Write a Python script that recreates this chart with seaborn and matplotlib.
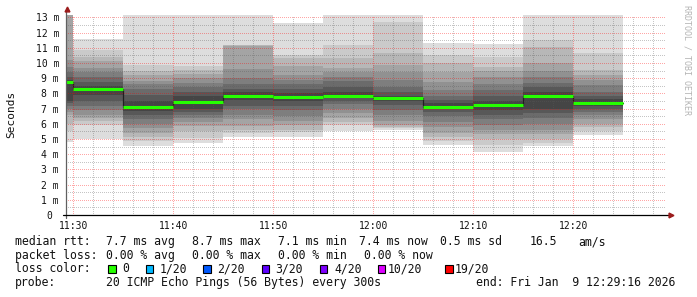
import numpy as np
import pandas as pd
import matplotlib
matplotlib.use("Agg")
import matplotlib.pyplot as plt
import matplotlib.dates as mdates
from matplotlib.ticker import MultipleLocator
from matplotlib.patches import Rectangle
from matplotlib.lines import Line2D
import seaborn as sns

# ---------------- data ----------------
DAY = "2026-01-09 "
graph_start = "11:29:16"
graph_end = "12:29:16"
bin_starts = ["11:29:16", "11:30:00", "11:35:00", "11:40:00", "11:45:00", "11:50:00",
              "11:55:00", "12:00:00", "12:05:00", "12:10:00", "12:15:00", "12:20:00"]
data_end = "12:25:00"

# median rtt per 5-minute step (ms)
median_rtt = [8.77, 8.29, 7.12, 7.45, 7.83, 7.78, 7.83, 7.67, 7.12, 7.26, 7.83, 7.39]

# 20 sorted ping rtts per step (ms)
ping_1129 = [4.82, 5.5, 6.0, 6.6, 6.8, 7.0, 7.2, 7.35, 7.5, 8.72, 8.82, 8.9, 9.1, 9.4, 9.76, 10.2, 13.3, 13.3, 13.3, 13.3]
ping_1130 = [4.98, 5.92, 6.2, 6.35, 6.6, 6.9, 7.2, 7.5, 7.9, 8.22, 8.36, 8.5, 8.77, 9.1, 9.4, 9.65, 10.1, 10.4, 10.86, 11.56]
ping_1135 = [4.56, 4.85, 5.15, 5.4, 5.7, 6.0, 6.3, 6.55, 6.85, 7.05, 7.19, 7.5, 7.9, 8.3, 8.6, 8.8, 9.2, 9.5, 9.85, 13.3]
ping_1140 = [4.76, 5.05, 5.5, 5.85, 6.1, 6.35, 6.6, 6.8, 7.0, 7.38, 7.52, 7.8, 8.1, 8.4, 8.7, 9.0, 9.3, 9.54, 9.8, 13.3]
ping_1145 = [5.15, 5.4, 5.6, 5.85, 6.3, 6.6, 6.95, 7.2, 7.55, 7.78, 7.88, 8.1, 8.3, 8.6, 9.0, 9.6, 11.15, 11.18, 11.2, 13.3]
ping_1150 = [5.15, 5.45, 5.6, 5.9, 6.2, 6.5, 6.9, 7.2, 7.5, 7.73, 7.83, 8.0, 8.3, 8.6, 8.9, 9.2, 9.8, 10.3, 10.5, 12.6]
ping_1155 = [5.5, 5.95, 6.1, 6.4, 6.7, 7.0, 7.3, 7.5, 7.7, 7.8, 7.86, 8.1, 8.4, 8.8, 9.1, 9.4, 9.67, 10.3, 11.18, 13.3]
ping_1200 = [5.59, 5.7, 5.8, 5.92, 6.2, 6.58, 6.9, 7.24, 7.5, 7.62, 7.72, 7.85, 8.1, 8.44, 8.9, 9.43, 9.87, 10.64, 12.72, 13.3]
ping_1205 = [4.6, 4.85, 5.15, 5.4, 5.8, 6.1, 6.5, 6.8, 6.95, 7.07, 7.17, 7.35, 7.55, 7.8, 8.2, 8.76, 9.4, 9.98, 10.52, 11.34]
ping_1210 = [4.17, 4.6, 5.0, 5.3, 5.6, 5.9, 6.3, 6.6, 6.9, 7.2, 7.32, 7.5, 7.8, 8.2, 8.6, 9.1, 9.5, 9.76, 10.42, 11.25]
ping_1215 = [4.55, 4.75, 5.0, 5.3, 5.6, 6.0, 6.4, 6.7, 6.95, 7.78, 7.88, 8.1, 8.4, 8.7, 9.1, 9.5, 10.0, 11.07, 11.5, 13.3]
ping_1220 = [5.26, 5.5, 5.8, 6.0, 6.3, 6.6, 6.8, 7.0, 7.2, 7.35, 7.43, 7.6, 7.8, 8.1, 8.55, 8.9, 9.2, 9.54, 10.64, 13.3]
pings = [ping_1129, ping_1130, ping_1135, ping_1140, ping_1145, ping_1150,
         ping_1155, ping_1200, ping_1205, ping_1210, ping_1215, ping_1220]

y_ticks = [0, 1, 2, 3, 4, 5, 6, 7, 8, 9, 10, 11, 12, 13]
y_tick_labels = ["0 ", "1 m", "2 m", "3 m", "4 m", "5 m", "6 m", "7 m", "8 m",
                 "9 m", "10 m", "11 m", "12 m", "13 m"]

rtt_stats = ["7.7 ms avg", "8.7 ms max", "7.1 ms min", "7.4 ms now", "0.5 ms sd", "16.5", "am/s"]
loss_stats = ["0.00 % avg", "0.00 % max", "0.00 % min", "0.00 % now"]
loss_labels = ["0", "1/20", "2/20", "3/20", "4/20", "10/20", "19/20"]
loss_colors = ["#26ff00", "#00b8ff", "#0059ff", "#5e00ff", "#7e00ff", "#dd00ff", "#ff0000"]
probe_text = "20 ICMP Echo Pings (56 Bytes) every 300s"
end_text = "end: Fri Jan  9 12:29:16 2026"

# ---------------- style ----------------
sns.set_theme(style="white")
plt.rcParams["font.family"] = ["DejaVu Sans Mono", "DejaVu Sans"]

W, H = 697, 297
fig = plt.figure(figsize=(W / 100, H / 100), dpi=100)
fig.patch.set_facecolor("white")

def fx(px):
    return px / W

def fy(py):
    return 1 - py / H

ymax = 13.15
ax_left, ax_right, ax_bottom = 66, 666, 215
ax_top = ax_bottom - ymax * 15.2
ax = fig.add_axes([fx(ax_left), fy(ax_bottom), (ax_right - ax_left) / W, (ax_bottom - ax_top) / H])
ax.set_facecolor("white")

times = pd.to_datetime([DAY + t for t in bin_starts + [data_end]])
x = mdates.date2num(times)
P = np.array(pings)
n = P.shape[1]
half = n // 2

# smoke: band between i-th lowest and i-th highest ping, darker toward the centre
for i in range(1, half + 1):
    level = int(190 / half * (half - i)) + 50
    col = "#%02x%02x%02x" % (level, level, level)
    lo = np.append(P[:, i - 1], P[-1, i - 1])
    hi = np.append(P[:, n - i], P[-1, n - i])
    ax.fill_between(x, lo, hi, step="post", color=col, lw=0, zorder=1, antialiased=False)

# thin dark median step line
med_ext = list(median_rtt) + [median_rtt[-1]]
sns.lineplot(x=x, y=med_ext, drawstyle="steps-post", color="#202020", lw=0.9, ax=ax,
             zorder=2, legend=False)
# green median bars (loss 0)
ax.hlines(median_rtt, x[:-1], x[1:], colors=loss_colors[0], lw=2.2, zorder=4, capstyle="butt")

ax.set_xlim(mdates.date2num(pd.Timestamp(DAY + graph_start)),
            mdates.date2num(pd.Timestamp(DAY + graph_end)))
ax.set_ylim(0, ymax)
ax.xaxis.set_major_locator(mdates.MinuteLocator(byminute=range(0, 60, 10)))
ax.xaxis.set_minor_locator(mdates.MinuteLocator(byminute=range(0, 60, 2)))
ax.xaxis.set_major_formatter(mdates.DateFormatter("%H:%M"))
ax.set_yticks(y_ticks)
ax.set_yticklabels(y_tick_labels)
ax.yaxis.set_minor_locator(MultipleLocator(0.5))

ax.set_axisbelow(False)
ax.grid(which="major", color="#ff0000", alpha=0.35, lw=0.72, linestyle=":",
        antialiased=False)
ax.grid(which="minor", color="#5a5a5a", alpha=0.35, lw=0.72, linestyle=":",
        antialiased=False)
for s in ax.spines.values():
    s.set_visible(False)
ax.tick_params(axis="both", which="major", length=2, width=0.7, color="#606060",
               labelsize=7, labelcolor="#111111")
ax.tick_params(axis="both", which="minor", length=1.5, width=0.7, color="#909090")
ax.tick_params(axis="y", pad=3)
ax.tick_params(axis="x", pad=2.6)
ax.set_xlabel("")
ax.set_ylabel("")

# axis lines with arrows
fig.add_artist(Line2D([fx(ax_left), fx(ax_left)], [fy(218), fy(10)], color="#606060", lw=0.9))
fig.add_artist(Line2D([fx(63), fx(670)], [fy(ax_bottom), fy(ax_bottom)], color="black", lw=0.9))
fig.add_artist(Line2D([fx(ax_left + 0.5)], [fy(9)], marker="^", markersize=3.5, color="#9b1c1c", lw=0))
fig.add_artist(Line2D([fx(671)], [fy(ax_bottom)], marker=">", markersize=3.5, color="#9b1c1c", lw=0))

# axis title and watermark
fig.text(fx(11), fy(114), "Seconds", rotation=90, ha="center", va="center",
         fontsize=8, color="#111111")
fig.text(fx(687), fy(60), "RRDTOOL / TOBI OETIKER", rotation=270, ha="center", va="center",
         fontsize=6, color="#b4b4b4")

# legend
fs = 8.3
tc = "#111111"
row_y = [245.3, 258.7, 272.5, 286.3]
fig.text(fx(15), fy(row_y[0]), "median rtt:", fontsize=fs, color=tc, va="baseline")
for s, px in zip(rtt_stats, [106.3, 192.3, 278.3, 359.3, 440.3, 529.3, 578.3]):
    fig.text(fx(px), fy(row_y[0]), s, fontsize=fs, color=tc, va="baseline")
fig.text(fx(15), fy(row_y[1]), "packet loss:", fontsize=fs, color=tc, va="baseline")
for s, px in zip(loss_stats, [106.3, 192.3, 278.3, 364.3]):
    fig.text(fx(px), fy(row_y[1]), s, fontsize=fs, color=tc, va="baseline")
fig.text(fx(15), fy(row_y[2]), "loss color:", fontsize=fs, color=tc, va="baseline")
box_x = [108.3, 145.7, 203.3, 261.7, 320.0, 377.7, 445.3]
lab_x = [122.0, 159.5, 217.0, 275.5, 334.0, 387.5, 455.0]
for lab, col, bx, lx in zip(loss_labels, loss_colors, box_x, lab_x):
    fig.add_artist(Rectangle((fx(bx), fy(273)), 7.2 / W, 7.6 / H, facecolor=col,
                             edgecolor="black", lw=0.8, transform=fig.transFigure))
    fig.text(fx(lx), fy(row_y[2]), lab, fontsize=fs, color=tc, va="baseline")
fig.text(fx(15), fy(row_y[3]), "probe:", fontsize=fs, color=tc, va="baseline")
fig.text(fx(106.3), fy(row_y[3]), probe_text, fontsize=fs, color=tc, va="baseline")
fig.text(fx(476), fy(row_y[3]), end_text, fontsize=fs, color=tc, va="baseline")

fig.savefig("out.png", dpi=100, facecolor="white")
